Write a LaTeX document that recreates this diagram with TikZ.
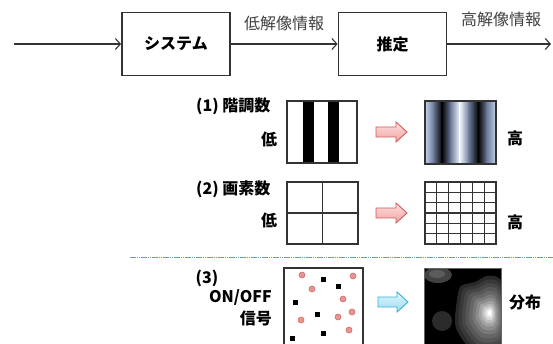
\documentclass[tikz,border=0pt]{standalone}
\usepackage{fontspec}
\setmainfont{Noto Sans CJK JP}
\usetikzlibrary{arrows.meta}
\definecolor{pinkfill}{HTML}{F2A2A2}
\definecolor{pinktop}{HTML}{FCE0E0}
\definecolor{pinkdraw}{HTML}{D05C5C}
\definecolor{cyanfill}{HTML}{9EDCF0}
\definecolor{cyantop}{HTML}{E0F6FC}
\definecolor{cyandraw}{HTML}{3AB0D6}
\definecolor{dotline}{HTML}{6E96D4}
\definecolor{reddot}{HTML}{E89494}
\definecolor{reddotd}{HTML}{D06A6A}
\definecolor{edgeL}{HTML}{C8D4EC}
\definecolor{midB}{HTML}{6C7A98}
\definecolor{centerW}{HTML}{F4F8FF}
\definecolor{framec}{HTML}{333333}
\begin{document}
\begin{tikzpicture}[x=1pt,y=-1pt,
  blockbox/.style={draw=framec,line width=1.8pt,minimum width=108pt,minimum height=63pt,font=\bfseries\fontsize{16}{16}\selectfont,inner sep=0pt},
  flow/.style={line width=1.1pt,draw=framec,-{Straight Barb[length=5pt,width=11pt,line width=1.1pt]}},
  toplabel/.style={font=\fontsize{16}{16}\selectfont,text=black!75,inner sep=0pt},
  lab/.style={font=\bfseries\fontsize{16}{16}\selectfont,inner sep=0pt},
  imgbox/.style={draw=framec,line width=1.5pt},
  pinkarrow/.style={draw=pinkdraw,top color=pinktop,bottom color=pinkfill,line width=0.9pt,line join=miter},
  cyanarrow/.style={draw=cyandraw,top color=cyantop,bottom color=cyanfill,line width=0.9pt,line join=miter},
  rdot/.style={circle,fill=reddot,draw=reddotd,line width=0.6pt,minimum size=6pt,inner sep=0pt},
  bsq/.style={rectangle,fill=black,minimum size=5pt,inner sep=0pt}
]
\clip (0,0) rectangle (553,344);
\useasboundingbox (0,0) rectangle (553,344);

% ---- top flow ----
\coordinate (in) at (14,44);
\node[blockbox] (sys) at (176,44) {システム};
\node[blockbox] (est) at (392.5,44) {推定};
\coordinate (out) at (551,44);
\draw[flow] (in) -- (sys);
\draw[flow] (sys) -- (est);
\draw[flow] (est) -- (out);
\node[toplabel] (lowinfo) at (284,23) {低解像情報};
\node[toplabel] (highinfo) at (501,19) {高解像情報};

% ---- row 1 ----
\node[lab,anchor=west] (l1) at (196,106) {(1) 階調数};
\node[lab] (low1) at (269,139) {低};
\node[minimum width=70pt,minimum height=62pt,inner sep=0pt] (b1) at (322,132) {};
\fill[black] (303,101) rectangle (314,163);
\fill[black] (328,101) rectangle (339,163);
\draw[imgbox] (b1.north west) rectangle (b1.south east);
\path[pinkarrow] (376,127) -- (396,127) -- (396,122) -- (407,132) -- (396,142) -- (396,137) -- (376,137) -- cycle;
\node[minimum width=71pt,minimum height=63pt,inner sep=0pt] (b2) at (460.5,132.5) {};
\begin{scope}
\def\xa{425}\def\w{71}
\foreach \fa/\fb/\ca/\cb in {0/0.12/edgeL/midB, 0.12/0.24/midB/black, 0.24/0.36/black/midB, 0.36/0.49/midB/centerW, 0.49/0.62/centerW/midB, 0.62/0.75/midB/black, 0.75/0.87/black/midB, 0.87/1/midB/edgeL}
  \shade[left color=\ca,right color=\cb] ({\xa+\fa*\w-0.3},101) rectangle ({\xa+\fb*\w+0.3},164);
\end{scope}
\draw[imgbox] (b2.north west) rectangle (b2.south east);
\node[lab] (high1) at (515,138) {高};

% ---- row 2 ----
\node[lab,anchor=west] (l2) at (196,189) {(2) 画素数};
\node[lab] (low2) at (269,220) {低};
\node[minimum width=71pt,minimum height=62pt,inner sep=0pt] (b3) at (322.5,213) {};
\draw[imgbox] (b3.north west) rectangle (b3.south east);
\draw[framec,line width=1.3pt] (b3.north) -- (b3.south) (b3.west) -- (b3.east);
\path[pinkarrow] (376,208) -- (396,208) -- (396,203) -- (407,213) -- (396,223) -- (396,218) -- (376,218) -- cycle;
\node[minimum width=71pt,minimum height=62pt,inner sep=0pt] (b4) at (460.5,213) {};
\foreach \i in {1,...,5} {
  \draw[framec,line width=1.2pt] ({425+\i*71/6},182) -- ({425+\i*71/6},244);
  \draw[framec,line width=1.2pt] (425,{182+\i*62/6}) -- (496,{182+\i*62/6});
}
\draw[imgbox] (b4.north west) rectangle (b4.south east);
\node[lab] (high2) at (515,222) {高};

% ---- separator ----
\coordinate (sepL) at (130,257);
\coordinate (sepR) at (553,257);
\draw[dotline,line width=1pt,dash pattern=on 1.6pt off 0.6pt] (sepL) -- (sepR);

% ---- row 3 ----
\node[lab] (l3) at (207,278) {(3)};
\node[lab,anchor=east] (onoff) at (272,297) {ON/OFF};
\node[lab,anchor=east] (sig) at (272,318) {信号};
\draw[imgbox] (284,352) -- (284,268) -- (363,268) -- (363,352);
\foreach \p/\q in {302/275,353/276,312/289,343/299,352/312,338/317,301/320,349/330}
  \node[rdot] at (\p,\q) {};
\foreach \p/\q in {323/279,338/286,295/302,317/314,323/333,292/338}
  \node[bsq] at (\p,\q) {};
\path[cyanarrow] (378,297) -- (397,297) -- (397,292) -- (408,302) -- (397,312) -- (397,307) -- (378,307) -- cycle;
% heat map
\begin{scope}
\clip (424,268) rectangle (501,352);
\fill[black] (424,268) rectangle (501,352);
\fill[white!26!black] (438,275) ellipse [x radius=14, y radius=8];
\fill[white!36!black] (437,274) ellipse [x radius=8, y radius=4];
\fill[white!17!black] (442,321) circle [radius=10];
\foreach \s/\g in {1/16,0.9/22,0.8/28,0.7/34,0.6/40,0.5/47,0.41/55,0.32/64,0.24/74,0.17/84,0.11/93,0.06/100}
  \fill[white!\g!black] plot[smooth cycle,shift={(490,313)},scale=\s] coordinates {(-33,-13) (-29,-27) (-15,-31) (-3,-37) (10,-34) (20,-10) (20,20) (10,40) (-15,40) (-34,15)};
\end{scope}
\draw[draw=black!60,line width=0.8pt] (424,352) -- (424,268) -- (501,268) -- (501,352);
\node[lab] (dist) at (525,302) {分布};
\end{tikzpicture}
\end{document}
